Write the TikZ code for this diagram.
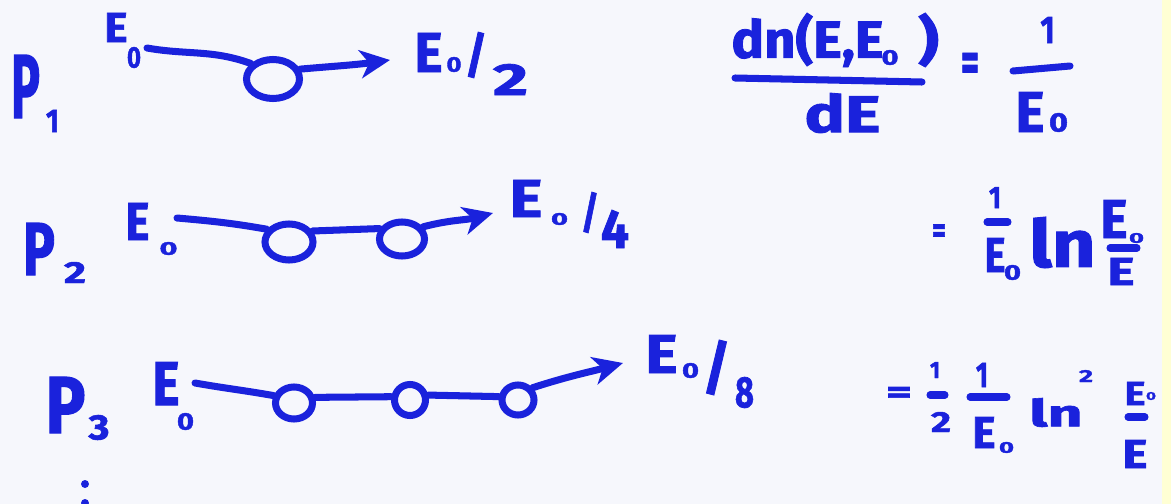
\documentclass[tikz,border=0pt]{standalone}
\usepackage{fontspec}
\setmainfont{Fira Sans}[BoldFeatures={FakeBold=1.6}]
\usepackage{graphicx}
\usetikzlibrary{arrows.meta, shapes.geometric}
\definecolor{Ink}{HTML}{1A22DC}
\definecolor{Paper}{HTML}{F6F7FC}
\definecolor{Strip}{HTML}{FFFFD4}
\newlength{\px}\setlength{\px}{0.02cm}
\newcommand{\hb}[3]{\resizebox*{#1\px}{#2\px}{#3}}

\begin{document}
\begin{tikzpicture}[x=0.02cm, y=-0.02cm,
  hw/.style={inner sep=0pt, text=Ink, font=\bfseries},
  ink/.style={draw=Ink, line width=4pt, line cap=round},
  blob/.style={ellipse, draw=Ink, line width=4pt, inner sep=0pt},
  tip/.style={-{Stealth[length=17pt,width=16pt,inset=5pt]}}]
  % paper
  \fill[Paper] (0,0) rectangle (1171,504);
  \fill[Strip] (1162,0) rectangle (1171,504);
  \useasboundingbox (0,0) rectangle (1171,504);

  % row 1
  \node[hw] (P1) at (25.5,86.5) {\hb{29}{63}{P}};
  \node[hw] (P1i) at (52.5,121) {\hb{13}{22}{1}};
  \node[hw] (E1) at (116,27.5) {\hb{23}{29}{E}};
  \node[hw] (E1i) at (134,57.5) {\hb{14}{21}{0}};
  \coordinate (a1) at (147,48);
  \node[blob, minimum width=53\px, minimum height=39\px] (c1) at (273,79) {};
  \coordinate (t1) at (390,60);
  \draw[ink] (a1) to[out=-10,in=160] (c1.145);
  \draw[ink, tip] (c1.20) to[out=5,in=188] (t1);
  \node[hw] (R1) at (428.5,52.5) {\hb{28}{39}{E}};
  \node[hw] (R1i) at (454,64.5) {\hb{15}{15}{0}};
  \node[hw] (R1s) at (476,55) {\hb{22}{46}{/}};
  \node[hw] (R1d) at (510.5,79.5) {\hb{35}{31}{2}};

  % dn/dE
  \node[hw] (num) at (807.5,40) {\hb{152}{54}{dn(E,E}};
  \node[hw] (numi) at (890,57.5) {\hb{17}{15}{0}};
  \node[hw] (numr) at (928.5,40) {\hb{21}{54}{)}};
  \draw[ink] (735,78) -- (922,82);
  \node[hw] (den) at (842.5,113) {\hb{76}{40}{dE}};
  \node[hw] (eq1) at (970,67.5) {\hb{18}{29}{=}};
  \node[hw] (f1n) at (1047.5,30) {\hb{14}{26}{1}};
  \draw[ink] (1013,71) -- (1070,66);
  \node[hw] (f1d) at (1030,112) {\hb{29}{40}{E}};
  \node[hw] (f1i) at (1058.5,122.5) {\hb{19}{19}{0}};

  % row 2
  \node[hw] (P2) at (39,249) {\hb{32}{52}{P}};
  \node[hw] (P2i) at (75,272.5) {\hb{22}{21}{2}};
  \node[hw] (E2) at (137.5,221.5) {\hb{24}{37}{E}};
  \node[hw] (E2i) at (168.5,248.5) {\hb{18}{13}{0}};
  \coordinate (a2) at (177,218);
  \node[blob, minimum width=48\px, minimum height=36\px] (c21) at (289,242) {};
  \node[blob, minimum width=45\px, minimum height=34\px] (c22) at (402,239) {};
  \coordinate (t2) at (493,213);
  \draw[ink] (a2) to[out=-5,in=170] (c21.150);
  \draw[ink] (c21.25) -- (c22.155);
  \draw[ink, tip] (c22.30) to[out=15,in=195] (t2);
  \node[hw] (R2) at (526,198.5) {\hb{33}{37}{E}};
  \node[hw] (R2i) at (559.5,219) {\hb{17}{12}{0}};
  \node[hw] (R2s) at (590,212.5) {\hb{18}{41}{/}};
  \node[hw] (R2d) at (615,229) {\hb{28}{38}{4}};

  % 1/E0 ln E0/E
  \node[hw] (eq2) at (939,233.5) {\hb{14}{18}{=}};
  \node[hw] (g1n) at (995,197.5) {\hb{12}{21}{1}};
  \draw[ink] (987,222) -- (1008,222);
  \node[hw] (g1d) at (995,255) {\hb{21}{34}{E}};
  \node[hw] (g1i) at (1012.5,272.5) {\hb{17}{15}{0}};
  \node[hw] (ln2) at (1062.5,242.5) {\hb{66}{51}{ln}};
  \node[hw] (g2n) at (1114,219) {\hb{27}{38}{E}};
  \node[hw] (g2i) at (1136.5,238) {\hb{15}{10}{0}};
  \draw[ink] (1110,248) -- (1137,248);
  \node[hw] (g2d) at (1121,271.5) {\hb{27}{27}{E}};

  % row 3
  \node[hw] (P3) at (65.5,405) {\hb{40}{56}{P}};
  \node[hw] (P3i) at (99,427.5) {\hb{21}{25}{3}};
  \node[hw] (E3) at (166,383.5) {\hb{27}{43}{E}};
  \node[hw] (E3i) at (185.5,421.5) {\hb{17}{17}{0}};
  \coordinate (a3) at (195,383);
  \node[blob, minimum width=37\px, minimum height=32\px] (c31) at (294,403) {};
  \node[blob, minimum width=31\px, minimum height=31\px] (c32) at (410,400) {};
  \node[blob, minimum width=32\px, minimum height=30\px] (c33) at (518,400) {};
  \coordinate (t3) at (623,363);
  \draw[ink] (a3) to[out=-10,in=170] (c31.160);
  \draw[ink] (c31.15) -- (c32.170);
  \draw[ink] (c32.15) -- (c33.170);
  \draw[ink, tip] (c33.40) to[out=18,in=195] (t3);
  \node[hw] (R3) at (661.5,354) {\hb{32}{38}{E}};
  \node[hw] (R3i) at (690.5,370.5) {\hb{17}{15}{0}};
  \node[hw] (R3s) at (716.5,367.5) {\hb{28}{55}{/}};
  \node[hw] (R3d) at (744.5,392.5) {\hb{19}{31}{8}};
  % dots
  \fill[Ink] (85,484) circle (4);
  \fill[Ink] (85,503) circle (4);

  % 1/2 1/E0 ln^2 E0/E
  \node[hw] (eq3) at (899,395) {\hb{26}{16}{=}};
  \node[hw] (h1n) at (935,370) {\hb{10}{16}{1}};
  \draw[ink] (930,395) -- (945,395);
  \node[hw] (h1d) at (941,422) {\hb{20}{20}{2}};
  \node[hw] (h2n) at (982,375) {\hb{12}{24}{1}};
  \draw[ink] (970,397) -- (1007,397);
  \node[hw] (h2d) at (984,432.5) {\hb{23}{31}{E}};
  \node[hw] (h2i) at (1006.5,447.5) {\hb{15}{11}{0}};
  \node[hw] (ln3) at (1056,412.5) {\hb{53}{29}{ln}};
  \node[hw] (sq3) at (1086,376) {\hb{14}{12}{2}};
  \node[hw] (h3n) at (1135,393.5) {\hb{21}{23}{E}};
  \node[hw] (h3i) at (1151,396) {\hb{10}{8}{0}};
  \draw[ink] (1128,417) -- (1145,417);
  \node[hw] (h3d) at (1135,454) {\hb{25}{28}{E}};
\end{tikzpicture}
\end{document}
